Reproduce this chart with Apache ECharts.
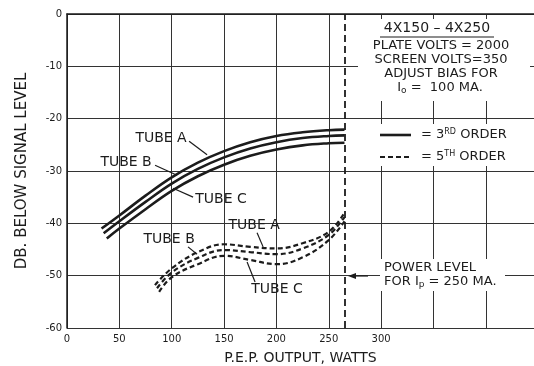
<!DOCTYPE html>
<html>
<head>
  <meta charset="utf-8">
  <title>4X150 - 4X250 distortion</title>
  <script src="https://cdn.jsdelivr.net/npm/echarts@6/dist/echarts.min.js"></script>
  <style>
    html, body { margin: 0; padding: 0; background: #fff; }
  </style>
</head>
<body>
<div id="main" style="width:534px;height:366px;"></div>

<script type="text/javascript">
// 3rd order (solid)
var x3A = [33, 50, 75, 100, 125, 150, 175, 200, 225, 250, 265];
var y3A = [-41.0, -38.5, -34.7, -31.2, -28.4, -26.2, -24.5, -23.3, -22.6, -22.2, -22.1];
var x3B = [35, 50, 75, 100, 125, 150, 175, 200, 225, 250, 265];
var y3B = [-41.9, -39.6, -35.9, -32.4, -29.6, -27.4, -25.7, -24.5, -23.7, -23.3, -23.2];
var x3C = [38, 50, 75, 100, 125, 150, 175, 200, 225, 250, 265];
var y3C = [-42.9, -41.0, -37.3, -33.8, -31.0, -28.8, -27.1, -25.9, -25.1, -24.7, -24.6];

// 5th order (dashed)
var x5A = [84, 100, 125, 150, 175, 200, 225, 250, 265];
var y5A = [-51.8, -48.6, -45.5, -44.0, -44.5, -44.8, -43.8, -41.6, -38.0];
var x5B = [86, 100, 125, 150, 175, 200, 225, 250, 265];
var y5B = [-52.4, -49.4, -46.6, -45.1, -45.5, -45.9, -44.8, -42.2, -38.8];
var x5C = [88, 100, 125, 150, 175, 200, 225, 250, 265];
var y5C = [-53.1, -50.3, -47.8, -46.2, -47.0, -47.8, -46.5, -43.2, -39.6];

var powerLimit = 265;

var INK = '#1c1c1c';
var FONT = 'DejaVu Sans';

var pairs = function(xs, ys){
  var out = [];
  for (var i = 0; i < xs.length; i++) out.push([xs[i], ys[i]]);
  return out;
};

var solid = function(xs, ys){
  return {
    type: 'line', data: pairs(xs, ys), smooth: 0.4, symbol: 'none', silent: true,
    lineStyle: { color: INK, width: 2.6 }
  };
};
var dashed = function(xs, ys){
  return {
    type: 'line', data: pairs(xs, ys), smooth: 0.4, symbol: 'none', silent: true,
    lineStyle: { color: INK, width: 2.2, type: [5, 3] }
  };
};

var myChart = echarts.init(document.getElementById('main'));

var s0 = solid(x3A, y3A);
s0.markLine = {
  silent: true, symbol: 'none', label: { show: false },
  lineStyle: { color: INK, width: 1.8, type: [7, 4] },
  data: [{ xAxis: powerLimit }]
};

var option = {
  animation: false,
  backgroundColor: '#fff',
  grid: { left: 67, top: 14, right: 0, bottom: 38, outerBoundsMode: 'none' },
  xAxis: {
    type: 'value', min: 0, max: 446, interval: 50,
    name: 'P.E.P. OUTPUT, WATTS', nameLocation: 'middle', nameGap: 23,
    nameTextStyle: { color: INK, fontFamily: FONT, fontSize: 14 },
    axisLine: { show: true, lineStyle: { color: INK, width: 1.5 } },
    axisTick: { show: false },
    axisLabel: {
      color: INK, fontFamily: FONT, fontSize: 10, margin: 6,
      showMaxLabel: false,
      formatter: function(v){ return v <= 300 ? String(v) : ''; }
    },
    splitLine: { show: true, lineStyle: { color: '#333', width: 1 } }
  },
  yAxis: {
    type: 'value', min: -60, max: 0, interval: 10,
    name: 'DB. BELOW SIGNAL LEVEL', nameLocation: 'middle', nameRotate: 90, nameGap: 37,
    nameTextStyle: { color: INK, fontFamily: FONT, fontSize: 15 },
    axisLine: { show: true, lineStyle: { color: INK, width: 1.5 } },
    axisTick: { show: false },
    axisLabel: { color: INK, fontFamily: FONT, fontSize: 10, margin: 5 },
    splitLine: { show: true, lineStyle: { color: '#333', width: 1 } }
  },
  series: [
    s0, solid(x3B, y3B), solid(x3C, y3C),
    dashed(x5A, y5A), dashed(x5B, y5B), dashed(x5C, y5C)
  ]
};

myChart.setOption(option);

var px = function(x, y){ return myChart.convertToPixel({ gridIndex: 0 }, [x, y]); };

var label = function(txt, x, y){
  var p = px(x, y);
  return { type: 'text', x: p[0], y: p[1], z: 20,
    style: { text: txt, fill: INK, font: '14px ' + FONT, textAlign: 'center', textVerticalAlign: 'middle' } };
};
var leader = function(x1, y1, x2, y2){
  var a = px(x1, y1), b = px(x2, y2);
  return { type: 'line', z: 20, shape: { x1: a[0], y1: a[1], x2: b[0], y2: b[1] },
    style: { stroke: INK, lineWidth: 1.2 } };
};
var txt = function(t, x, y, align, size){
  return { type: 'text', x: x, y: y, z: 30,
    style: { text: t, fill: INK, font: (size || 13) + 'px ' + FONT,
      textAlign: align || 'center', textVerticalAlign: 'middle' } };
};

var graphic = [
  // curve labels
  label('TUBE A', 89.8, -23.7), leader(116.6, -24.3, 133.8, -26.9),
  label('TUBE B', 56.4, -28.3), leader(84.1, -28.9, 105.1, -30.8),
  label('TUBE C', 147.1, -35.5), leader(120.4, -35.0, 101.3, -33.3),
  label('TUBE A', 178.7, -40.3), leader(181.5, -41.8, 187.3, -44.5),
  label('TUBE B', 97.5, -43.0), leader(115.6, -44.5, 124.2, -45.9),
  label('TUBE C', 200.6, -52.7), leader(179.6, -51.2, 172.0, -47.4),

  // tube / conditions box
  { type: 'rect', z: 25, shape: { x: 358, y: 19, width: 172, height: 82 }, style: { fill: '#fff' } },
  txt('4X150 \u2013 4X250', 437, 28, 'center', 14),
  { type: 'line', z: 30, shape: { x1: 380, y1: 37, x2: 494, y2: 37 }, style: { stroke: INK, lineWidth: 1.2 } },
  txt('PLATE VOLTS = 2000', 441, 46),
  txt('SCREEN VOLTS=350', 441, 60),
  txt('ADJUST BIAS FOR', 441, 74),
  { type: 'text', x: 440, y: 88, z: 30,
    style: { text: '{b|I}{s|o}{b| =  100 MA.}', textAlign: 'center', textVerticalAlign: 'middle',
      rich: { b: { fill: INK, font: '13px ' + FONT }, s: { fill: INK, font: '9px ' + FONT, padding: [5, 0, 0, 0] } } } },

  // legend box
  { type: 'rect', z: 25, shape: { x: 372, y: 124, width: 162, height: 42 }, style: { fill: '#fff' } },
  { type: 'line', z: 30, shape: { x1: 380, y1: 135, x2: 411, y2: 135 }, style: { stroke: INK, lineWidth: 2.6 } },
  { type: 'text', x: 421, y: 135, z: 30,
    style: { text: '{b|= 3}{s|RD}{b| ORDER}', textAlign: 'left', textVerticalAlign: 'middle',
      rich: { b: { fill: INK, font: '13px ' + FONT }, s: { fill: INK, font: '8px ' + FONT, padding: [0, 0, 6, 0] } } } },
  { type: 'line', z: 30, shape: { x1: 380, y1: 157, x2: 411, y2: 157 }, style: { stroke: INK, lineWidth: 2.2, lineDash: [5, 3] } },
  { type: 'text', x: 421, y: 157, z: 30,
    style: { text: '{b|= 5}{s|TH}{b| ORDER}', textAlign: 'left', textVerticalAlign: 'middle',
      rich: { b: { fill: INK, font: '13px ' + FONT }, s: { fill: INK, font: '8px ' + FONT, padding: [0, 0, 6, 0] } } } },

  // power level note
  { type: 'rect', z: 25, shape: { x: 380, y: 259, width: 125, height: 32 }, style: { fill: '#fff' } },
  txt('POWER LEVEL', 384, 268, 'left'),
  { type: 'text', x: 384, y: 282, z: 30,
    style: { text: '{b|FOR I}{s|p}{b| = 250 MA.}', textAlign: 'left', textVerticalAlign: 'middle',
      rich: { b: { fill: INK, font: '13px ' + FONT }, s: { fill: INK, font: '9px ' + FONT, padding: [5, 0, 0, 0] } } } },
  { type: 'line', z: 30, shape: { x1: 352, y1: 276, x2: 368, y2: 276 }, style: { stroke: INK, lineWidth: 1.2 } },
  { type: 'polygon', z: 30, shape: { points: [[348, 276], [356, 273], [356, 279]] }, style: { fill: INK } }
];

myChart.setOption({ graphic: graphic });
</script>
</body>
</html>
